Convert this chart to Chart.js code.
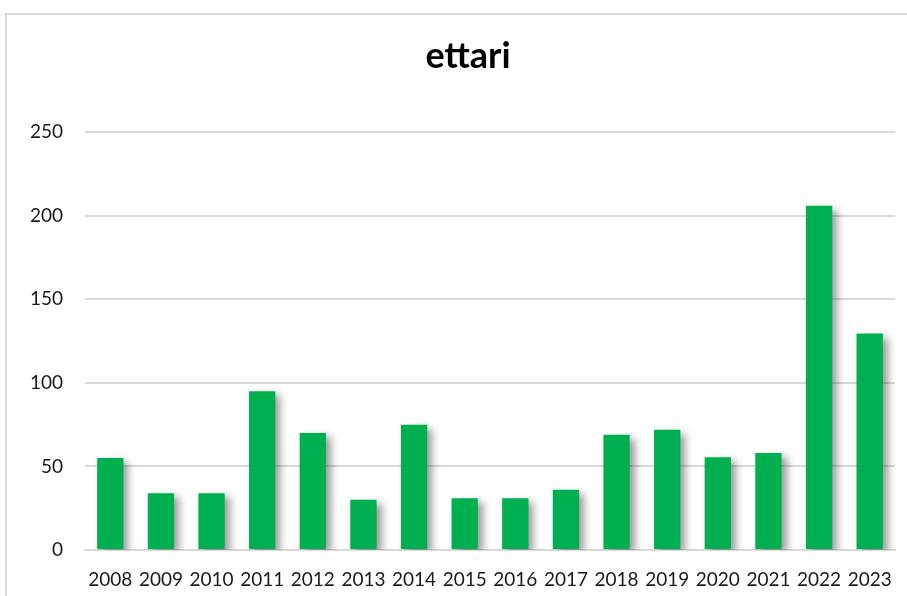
<!DOCTYPE html>
<html>
<head>
<meta charset="utf-8">
<script src="https://cdn.jsdelivr.net/npm/chart.js@4"></script>
<style>
  body { margin: 0; background: #fff; }
  #wrap { position: relative; width: 907px; height: 596px; overflow: hidden; }
  #frame { position: absolute; left: 5px; top: 13px; width: 1000px; height: 700px; border: 2px solid #d9d9d9; box-sizing: border-box; }
  #c { position: absolute; left: 0; top: 0; }
</style>
</head>
<body>
<div id="wrap">
  <div id="frame"></div>
  <canvas id="c" width="907" height="596"></canvas>
</div>
<script>
var years = ["2008", "2009", "2010", "2011", "2012", "2013", "2014", "2015",
             "2016", "2017", "2018", "2019", "2020", "2021", "2022", "2023"];
var ettari = [55, 34, 34, 95, 70, 30, 75, 31, 31, 36, 69, 72, 55.5, 58, 206, 129.5];

// soft drop shadow behind the bars
var barShadow = {
  id: "barShadow",
  beforeDatasetsDraw: function (chart) {
    var ctx = chart.ctx;
    ctx.save();
    ctx.shadowColor = "rgba(0,0,0,0.4)";
    ctx.shadowBlur = 8;
    ctx.shadowOffsetX = 5;
    ctx.shadowOffsetY = 4;
  },
  afterDatasetsDraw: function (chart) {
    chart.ctx.restore();
  }
};

// the frame runs on past the right edge, so centre the title a little right
var titleShift = {
  id: "titleShift",
  afterLayout: function (chart) {
    if (chart.titleBlock) chart.titleBlock.left = 41;
  }
};

var ctx = document.getElementById("c").getContext("2d");
var chart = new Chart(ctx, {
  type: "bar",
  data: {
    labels: years,
    datasets: [
      {
        label: "ettari",
        data: ettari,
        backgroundColor: "#00b050",
        borderWidth: 0,
        categoryPercentage: 1,
        barPercentage: 0.52
      }
    ]
  },
  options: {
    responsive: false,
    animation: false,
    layout: { padding: { left: 0, right: 12, top: 0, bottom: 0 } },
    plugins: {
      legend: { display: false },
      tooltip: { enabled: false },
      title: {
        display: true,
        text: "ettari",
        color: "#000",
        font: { family: "Lato", size: 36, weight: "bold" },
        padding: { top: 35, bottom: 54 }
      }
    },
    scales: {
      x: {
        afterFit: function (scale) { scale.height = 46; },
        grid: { display: false },
        border: { color: "#d9d9d9", width: 2 },
        ticks: {
          color: "#1a1a1a",
          font: { family: "Lato", size: 19 },
          padding: 10,
          maxRotation: 0
        }
      },
      y: {
        min: 0,
        max: 250,
        afterFit: function (scale) { scale.width = 85; },
        grid: { color: "#d9d9d9", lineWidth: 2, drawTicks: false },
        border: { display: false },
        ticks: {
          stepSize: 50,
          color: "#1a1a1a",
          font: { family: "Lato", size: 19 },
          padding: 22
        }
      }
    }
  },
  plugins: [barShadow, titleShift]
});
</script>
</body>
</html>
